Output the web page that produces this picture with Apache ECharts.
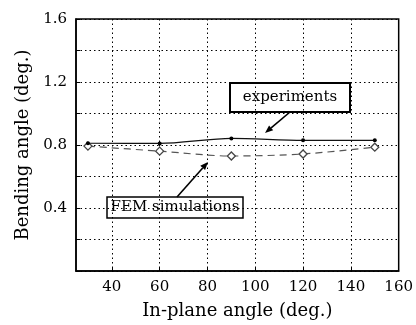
<!DOCTYPE html>
<html>
<head>
<meta charset="utf-8">
<script src="https://cdn.jsdelivr.net/npm/echarts@6/dist/echarts.min.js"></script>
<style>
  html, body { margin: 0; padding: 0; background: #fff; }
  #chart { width: 416px; height: 325px; }
</style>
</head>
<body>
<div id="chart"></div>
<script>
const angles = [30, 60, 90, 120, 150];
const experiments = [0.811, 0.81, 0.842, 0.83, 0.83];
const femSimulations = [0.793, 0.761, 0.73, 0.743, 0.786];
const xTicks = [40, 60, 80, 100, 120, 140, 160];
const xGrid = [40, 60, 80, 100, 120, 140];

const font = "DejaVu Serif";
const chart = echarts.init(document.getElementById("chart"));

// little arrow: shaft + filled head, pixel coords for the annotation callouts
function arrow(x1, y1, x2, y2) {
  const dx = x2 - x1, dy = y2 - y1;
  const len = Math.sqrt(dx * dx + dy * dy);
  const ux = dx / len, uy = dy / len;
  const hl = 8, hw = 3.2;
  const bx = x2 - ux * hl, by = y2 - uy * hl;
  return [
    { type: "line", shape: { x1: x1, y1: y1, x2: bx, y2: by }, style: { stroke: "#000", lineWidth: 1.6 } },
    {
      type: "polygon",
      shape: { points: [[x2, y2], [bx - uy * hw, by + ux * hw], [bx + uy * hw, by - ux * hw]] },
      style: { fill: "#000" }
    }
  ];
}

function callout(x, y, w, h, text, lw) {
  return {
    type: "group",
    children: [
      { type: "rect", shape: { x: x, y: y, width: w, height: h }, style: { fill: "#fff", stroke: "#000", lineWidth: lw } },
      {
        type: "text",
        x: x + w / 2, y: y + h / 2,
        style: { text: text, font: "15px '" + font + "'", fill: "#000", align: "center", verticalAlign: "middle" }
      }
    ]
  };
}

chart.setOption({
  animation: false,
  grid: { left: 76, right: 15, top: 19, bottom: 49, show: true, borderColor: "#000", borderWidth: 1.5 },
  xAxis: {
    type: "value",
    min: 25,
    max: 160,
    name: "In-plane angle (deg.)",
    nameLocation: "middle",
    nameGap: 31,
    nameTextStyle: { fontFamily: font, fontSize: 18, color: "#000" },
    axisLine: { lineStyle: { color: "#000", width: 1.5 } },
    axisTick: { inside: true, length: 4, customValues: xTicks, lineStyle: { color: "#000" } },
    axisLabel: { customValues: xTicks, fontFamily: font, fontSize: 15, color: "#000", margin: 9 },
    splitLine: { show: true, customValues: xGrid, lineStyle: { color: "#000", type: [1.5, 3], width: 1 } }
  },
  yAxis: {
    type: "value",
    min: 0,
    max: 1.6,
    interval: 0.2,
    name: "Bending angle (deg.)",
    nameLocation: "middle",
    nameGap: 41,
    nameTextStyle: { fontFamily: font, fontSize: 18, color: "#000" },
    axisLine: { show: true, lineStyle: { color: "#000", width: 1.5 } },
    axisTick: { inside: true, length: 4, lineStyle: { color: "#000" } },
    axisLabel: {
      fontFamily: font, fontSize: 15, color: "#000", margin: 9,
      formatter: (v) => {
        const k = Math.round(v / 0.2);
        return k > 0 && k % 2 === 0 ? v.toFixed(1) : "";
      }
    },
    splitLine: { show: true, lineStyle: { color: "#000", type: [1.5, 3], width: 1 } }
  },
  series: [
    {
      name: "experiments",
      type: "line",
      smooth: 0.3,
      data: angles.map((a, i) => [a, experiments[i]]),
      symbol: "circle",
      symbolSize: 4,
      lineStyle: { color: "#111", width: 1.2 },
      itemStyle: { color: "#000" },
      z: 3
    },
    {
      name: "FEM simulations",
      type: "line",
      smooth: 0.3,
      data: angles.map((a, i) => [a, femSimulations[i]]),
      symbol: "diamond",
      symbolSize: 8,
      lineStyle: { color: "#555", width: 1.2, type: [7, 5] },
      itemStyle: { color: "#fff", borderColor: "#444", borderWidth: 1.3 },
      z: 2
    }
  ],
  graphic: [
    callout(230, 83, 120, 29, "experiments", 2),
    callout(107, 197, 136, 21, "FEM simulations", 1.5),
    ...arrow(290, 112, 265, 133),
    ...arrow(177, 197, 208, 162)
  ]
});
</script>
</body>
</html>
